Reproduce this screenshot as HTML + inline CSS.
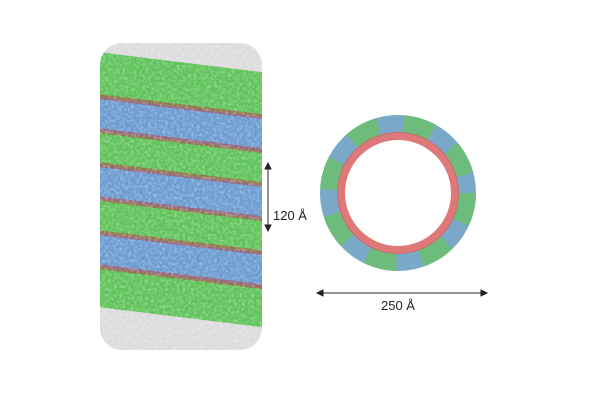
<!DOCTYPE html>
<html><head><meta charset="utf-8"><style>
html,body{margin:0;padding:0;background:#fff;}
svg{display:block}
text{font-family:"Liberation Sans",sans-serif;}
</style></head><body>
<svg width="600" height="400" viewBox="0 0 600 400">
<defs>
<clipPath id="cyl"><rect x="100" y="43" width="162" height="307" rx="22"/></clipPath>
<filter id="noise"><feTurbulence type="fractalNoise" baseFrequency="0.35" numOctaves="2" seed="3"/><feColorMatrix values="0 0 0 0 1  0 0 0 0 1  0 0 0 0 1  0 0 0 -1.6 1.0"/><feComposite in2="SourceGraphic" operator="in"/></filter>
</defs>
<g clip-path="url(#cyl)">
  <rect x="100" y="43" width="162" height="307" fill="#dcdcdc"/>
  <g transform="translate(0,-25) skewY(7)">
    <rect x="100" y="65" width="162" height="45" fill="#5fc35a"/>
    <rect x="100" y="110" width="162" height="34" fill="#6b9bd0"/>
    <rect x="100" y="144" width="162" height="34" fill="#5fc35a"/>
    <rect x="100" y="178" width="162" height="34" fill="#6b9bd0"/>
    <rect x="100" y="212" width="162" height="34" fill="#5fc35a"/>
    <rect x="100" y="246" width="162" height="34" fill="#6b9bd0"/>
    <rect x="100" y="280" width="162" height="40" fill="#5fc35a"/>
    <g fill="#b04545" opacity="0.6">
      <rect x="100" y="107" width="162" height="5"/>
      <rect x="100" y="141" width="162" height="5"/>
      <rect x="100" y="175" width="162" height="5"/>
      <rect x="100" y="209" width="162" height="5"/>
      <rect x="100" y="243" width="162" height="5"/>
      <rect x="100" y="277" width="162" height="5"/>
    </g>
  </g>
  <rect x="100" y="43" width="162" height="307" fill="#fff" filter="url(#noise)" opacity="0.45"/>
</g>
<g>
  <circle cx="398" cy="193" r="69" fill="none" stroke="#7aa8c8" stroke-width="18"/>
  <circle cx="398" cy="193" r="69" fill="none" stroke="#6cc068" stroke-width="18" stroke-dasharray="30 25" opacity="0.8"/>
  <circle cx="398" cy="193" r="57" fill="none" stroke="#d96060" stroke-width="8" opacity="0.85"/>
</g>
<g stroke="#222" fill="#222">
  <line x1="268" y1="168" x2="268" y2="226" stroke-width="1"/>
  <path d="M265,169 L268,163 L271,169Z"/>
  <path d="M265,225 L268,231 L271,225Z"/>
</g>
<text x="273" y="220" font-size="13" fill="#222">120 Å</text>
<g stroke="#222" fill="#222">
  <line x1="322" y1="293" x2="482" y2="293" stroke-width="1"/>
  <path d="M323,290 L317,293 L323,296Z"/>
  <path d="M481,290 L487,293 L481,296Z"/>
</g>
<text x="381" y="310" font-size="13" fill="#222">250 Å</text>
</svg>
</body></html>
